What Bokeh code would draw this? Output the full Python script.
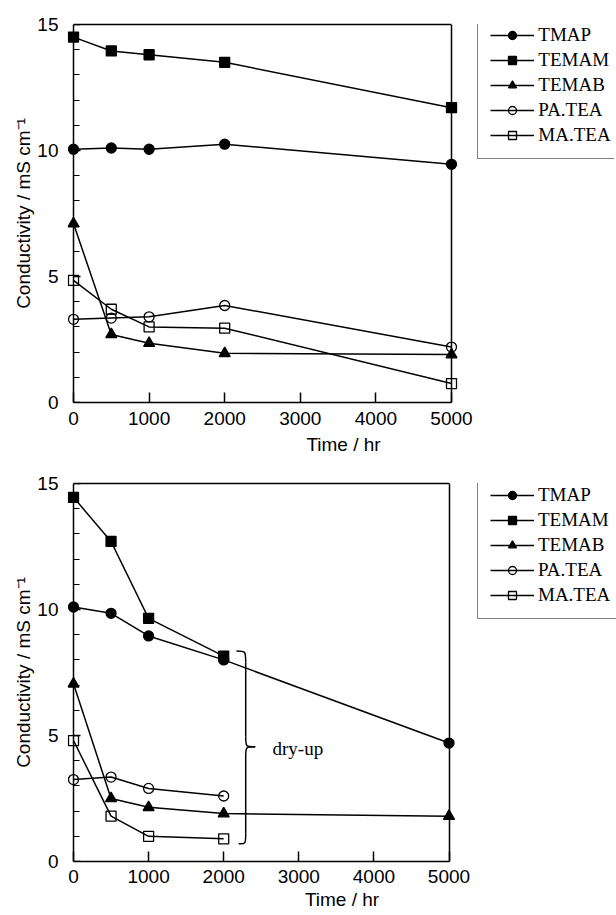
from bokeh.plotting import figure
from bokeh.layouts import column
from bokeh.models import (Range1d, SingleIntervalTicker, FixedTicker, Legend, LegendItem,
                          Label, LinearAxis, CustomJSTickFormatter)
from bokeh.embed import file_html
from bokeh.resources import INLINE

# ---------------- data ----------------
series_names = ["TMAP", "TEMAM", "TEMAB", "PA.TEA", "MA.TEA"]
x_ticks = [0, 1000, 2000, 3000, 4000, 5000]

time_top = [0, 500, 1000, 2000, 5000]
tmap_top = [10.05, 10.1, 10.05, 10.25, 9.45]
temam_top = [14.5, 13.95, 13.8, 13.5, 11.7]
temab_top = [7.1, 2.7, 2.35, 1.95, 1.9]
patea_top = [3.3, 3.35, 3.4, 3.85, 2.2]
matea_top = [4.85, 3.7, 3.0, 2.95, 0.75]

time_bot_long = [0, 500, 1000, 2000, 5000]
time_bot_short = [0, 500, 1000, 2000]
tmap_bot = [10.1, 9.85, 8.95, 8.0, 4.7]
temam_bot = [14.45, 12.7, 9.65, 8.15]
temab_bot = [7.05, 2.5, 2.15, 1.9, 1.8]
patea_bot = [3.25, 3.35, 2.9, 2.6]
matea_bot = [4.8, 1.8, 1.0, 0.9]

SANS = "Liberation Sans"
SERIF = "Liberation Serif"

marker_styles = {
    "TMAP": dict(marker="circle", size=10, fill_color="black"),
    "TEMAM": dict(marker="square", size=10, fill_color="black"),
    "TEMAB": dict(marker="triangle", size=11, fill_color="black"),
    "PA.TEA": dict(marker="circle", size=10, fill_color=None),
    "MA.TEA": dict(marker="square", size=10, fill_color=None),
}

T_MAX = 5000
Y_MAX = 15
PAD = 6  # pixels of frame left of t=0 so markers at t=0 are not clipped


def make_fig(axis_px, span_px, top_border, bottom_border, tick_standoff, label_standoff,
             fig_w=616):
    """axis_px: x pixel (within figure) of t=0; span_px: pixels from t=0 to t=T_MAX."""
    upp = T_MAX / span_px
    frame_w = fig_w - (axis_px - PAD)
    x0 = -PAD * upp
    x1 = x0 + frame_w * upp
    p = figure(frame_width=frame_w, frame_height=378,
               x_range=Range1d(x0, x1), y_range=Range1d(0, Y_MAX),
               output_backend="svg", toolbar_location=None,
               min_border_left=axis_px - PAD, min_border_right=0,
               min_border_top=top_border, min_border_bottom=bottom_border,
               background_fill_color="white", border_fill_color="white")
    p.grid.visible = False
    p.outline_line_color = None

    xa = p.xaxis[0]
    ya = p.yaxis[0]
    xa.ticker = FixedTicker(ticks=x_ticks)
    xa.bounds = (0, T_MAX)
    ya.ticker = SingleIntervalTicker(interval=5, num_minor_ticks=5)
    for ax in (xa, ya):
        ax.axis_line_width = 1.5
        ax.major_tick_line_width = 1.5
        ax.minor_tick_line_width = 1.2
        ax.major_tick_out = 0
        ax.minor_tick_out = 0
        ax.major_label_text_font = SANS
        ax.major_label_text_font_size = "19px"
        ax.major_label_text_color = "black"
        ax.axis_label_text_font = SANS
        ax.axis_label_text_font_size = "19px"
        ax.axis_label_text_font_style = "normal"
        ax.axis_label_text_color = "black"
    xa.major_tick_in = 10
    xa.major_label_standoff = tick_standoff
    xa.axis_label = "Time / hr"
    xa.axis_label_standoff = label_standoff
    # y axis at the frame's left edge carries the labels only
    ya.axis_line_color = None
    ya.major_tick_line_color = None
    ya.minor_tick_line_color = None
    ya.major_tick_in = 0
    ya.minor_tick_in = 0
    ya.major_label_standoff = 15 - PAD
    ya.axis_label = "Conductivity / mS cm\u207b\u00b9"
    ya.axis_label_standoff = 0

    # y axis line and inward ticks at t = 0
    yline = LinearAxis(fixed_location=0,
                       ticker=SingleIntervalTicker(interval=5, num_minor_ticks=5),
                       formatter=CustomJSTickFormatter(code="return ''"),
                       axis_line_width=1.5, major_tick_line_width=1.5, minor_tick_line_width=1.2,
                       major_tick_in=7, minor_tick_in=6, major_tick_out=0, minor_tick_out=0,
                       major_label_standoff=0)
    p.add_layout(yline, "left")

    # top and right borders of the box (t = 0..5000, y = 0..15)
    def border_axis(**kw):
        return LinearAxis(ticker=FixedTicker(ticks=[]), axis_line_width=1.5,
                          axis_line_color="black", major_tick_out=0, minor_tick_out=0,
                          major_label_standoff=0, **kw)
    p.add_layout(border_axis(bounds=(0, T_MAX)), "above")
    p.add_layout(border_axis(fixed_location=T_MAX), "left")
    return p


def add_series(p, xs_list, ys_list, leg_loc):
    items = []
    for name, xs, ys in zip(series_names, xs_list, ys_list):
        r1 = p.line(xs, ys, line_color="black", line_width=1.5)
        st = marker_styles[name]
        r2 = p.scatter(xs, ys, marker=st["marker"], size=st["size"],
                       fill_color=st["fill_color"], line_color="black", line_width=1.3)
        items.append(LegendItem(label=name, renderers=[r1, r2]))
    leg = Legend(items=items, location=leg_loc)
    leg.border_line_color = "black"
    leg.border_line_width = 1.2
    leg.background_fill_color = "white"
    leg.label_text_font = SERIF
    leg.label_text_font_size = "19px"
    leg.label_text_color = "black"
    leg.glyph_width = 44
    leg.glyph_height = 20
    leg.label_height = 20
    leg.spacing = 3
    leg.padding = 12
    leg.label_standoff = 4
    leg.margin = 0
    p.add_layout(leg, "center")


# ---------------- top chart ----------------
p1 = make_fig(axis_px=70, span_px=378, top_border=24, bottom_border=59,
              tick_standoff=9, label_standoff=6)
add_series(p1, [time_top] * 5, [tmap_top, temam_top, temab_top, patea_top, matea_top],
           leg_loc=(418, 243))

# ---------------- bottom chart ----------------
p2 = make_fig(axis_px=73, span_px=375.5, top_border=22, bottom_border=55,
              tick_standoff=8, label_standoff=3)
add_series(p2, [time_bot_long, time_bot_short, time_bot_long, time_bot_short, time_bot_short],
           [tmap_bot, temam_bot, temab_bot, patea_bot, matea_bot],
           leg_loc=(410, 242))

# brace "}" marking the dry-up
bx = 2293
p2.bezier(x0=[2170, bx, 2420, bx], y0=[8.35, 4.95, 4.55, 1.1],
          x1=[bx, 2420, bx, 2200], y1=[7.9, 4.55, 4.15, 0.7],
          cx0=[bx, bx, bx, bx], cy0=[8.35, 4.55, 4.55, 0.7],
          cx1=[bx, bx, bx, bx], cy1=[8.35, 4.55, 4.55, 0.7],
          line_color="black", line_width=1.5)
p2.segment(x0=[bx, bx], y0=[7.9, 4.15], x1=[bx, bx], y1=[4.95, 1.1],
           line_color="black", line_width=1.5)
p2.add_layout(Label(x=2650, y=4.5, text="dry-up", text_font=SERIF,
                    text_font_size="19px", text_baseline="middle", text_color="black"))

layout = column(p1, p2, spacing=0)
open("out.html", "w").write(file_html(layout, INLINE))
